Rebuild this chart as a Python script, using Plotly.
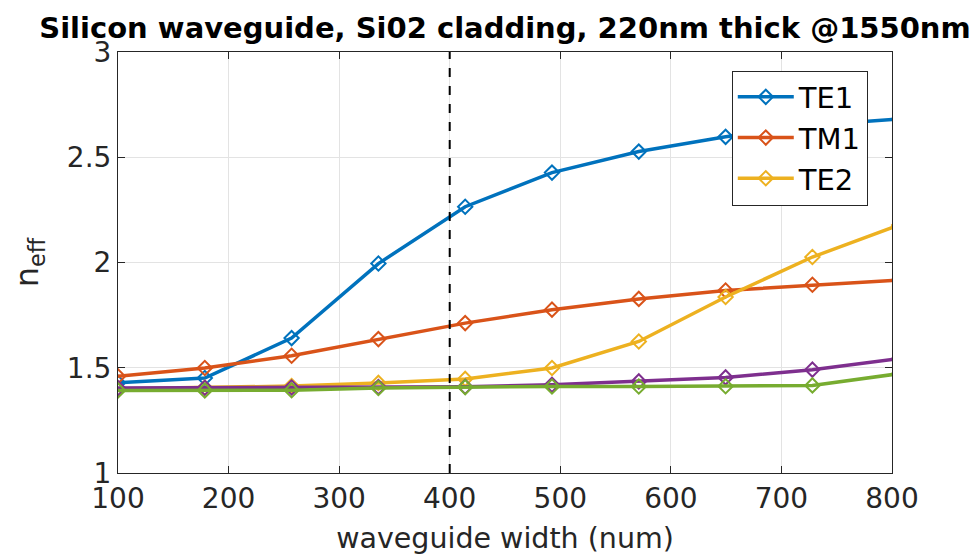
import plotly.graph_objects as go

# waveguide width samples (nm)
width_nm = [100, 178.5, 257, 335.5, 414, 492.5, 571, 649.5, 728, 806.5]

# effective indices
te1 = [1.429, 1.451, 1.641, 1.995, 2.265, 2.427, 2.527, 2.597, 2.652, 2.682]
tm1 = [1.459, 1.499, 1.557, 1.636, 1.712, 1.776, 1.827, 1.867, 1.894, 1.917]
te2 = [1.400, 1.405, 1.413, 1.428, 1.447, 1.499, 1.625, 1.836, 2.026, 2.178]
mode4 = [1.404, 1.405, 1.406, 1.408, 1.410, 1.419, 1.435, 1.454, 1.491, 1.543]
mode5 = [1.392, 1.392, 1.393, 1.404, 1.408, 1.411, 1.411, 1.412, 1.416, 1.472]

series_names = ["TE1", "TM1", "TE2", "mode4", "mode5"]
series_vals = [te1, tm1, te2, mode4, mode5]
series_colors = ["#0072BD", "#D95319", "#EDB120", "#7E2F8E", "#77AC30"]
show_in_legend = [True, True, True, False, False]

x_ticks = [100, 200, 300, 400, 500, 600, 700, 800]
y_ticks = [1, 1.5, 2, 2.5, 3]
cutoff_width = 400

FONT = "DejaVu Sans"
AX = "#262626"

fig = go.Figure()
for name, vals, col, leg in zip(series_names, series_vals, series_colors, show_in_legend):
    fig.add_trace(go.Scatter(
        x=width_nm, y=vals, name=name, mode="lines+markers",
        line=dict(color=col, width=3.5),
        marker=dict(symbol="diamond-open", size=11, color=col, line=dict(width=2, color=col)),
        showlegend=leg, cliponaxis=True,
    ))

fig.add_shape(type="line", xref="x", yref="paper", x0=cutoff_width, x1=cutoff_width,
              y0=0, y1=1, line=dict(color="black", width=2, dash="dash"))

axis_common = dict(
    showline=True, linecolor=AX, linewidth=1, mirror="ticks",
    ticks="inside", ticklen=7, tickcolor=AX, tickwidth=1,
    showgrid=True, gridcolor="#e3e3e3", gridwidth=1, zeroline=False,
    tickfont=dict(family=FONT, size=28, color=AX), automargin=False,
)

fig.update_layout(
    width=972, height=560,
    margin=dict(l=118, r=80, t=52, b=87),
    paper_bgcolor="white", plot_bgcolor="white",
    title=dict(text="<b>Silicon waveguide, Si02 cladding, 220nm thick @1550nm</b>",
               font=dict(family=FONT, size=29, color="black"),
               x=0.5, xref="paper", xanchor="center", y=0.933, yanchor="bottom", yref="container"),
    xaxis=dict(range=[100, 800], tickvals=x_ticks, ticktext=[str(v) for v in x_ticks],
               title=dict(text="waveguide width (num)", font=dict(family=FONT, size=28.5, color=AX), standoff=14),
               **axis_common),
    yaxis=dict(range=[1, 3], tickvals=y_ticks, ticktext=["1", "1.5", "2", "2.5", "3"],
               title=dict(text="n<sub>eff</sub>", font=dict(family=FONT, size=32, color=AX), standoff=18),
               **axis_common),
    legend=dict(x=0.793, y=0.956, xanchor="left", yanchor="top",
                bgcolor="white", bordercolor=AX, borderwidth=1,
                font=dict(family=FONT, size=29, color="black"),
                tracegroupgap=0, itemwidth=56),
)

fig.write_html("out.html")
